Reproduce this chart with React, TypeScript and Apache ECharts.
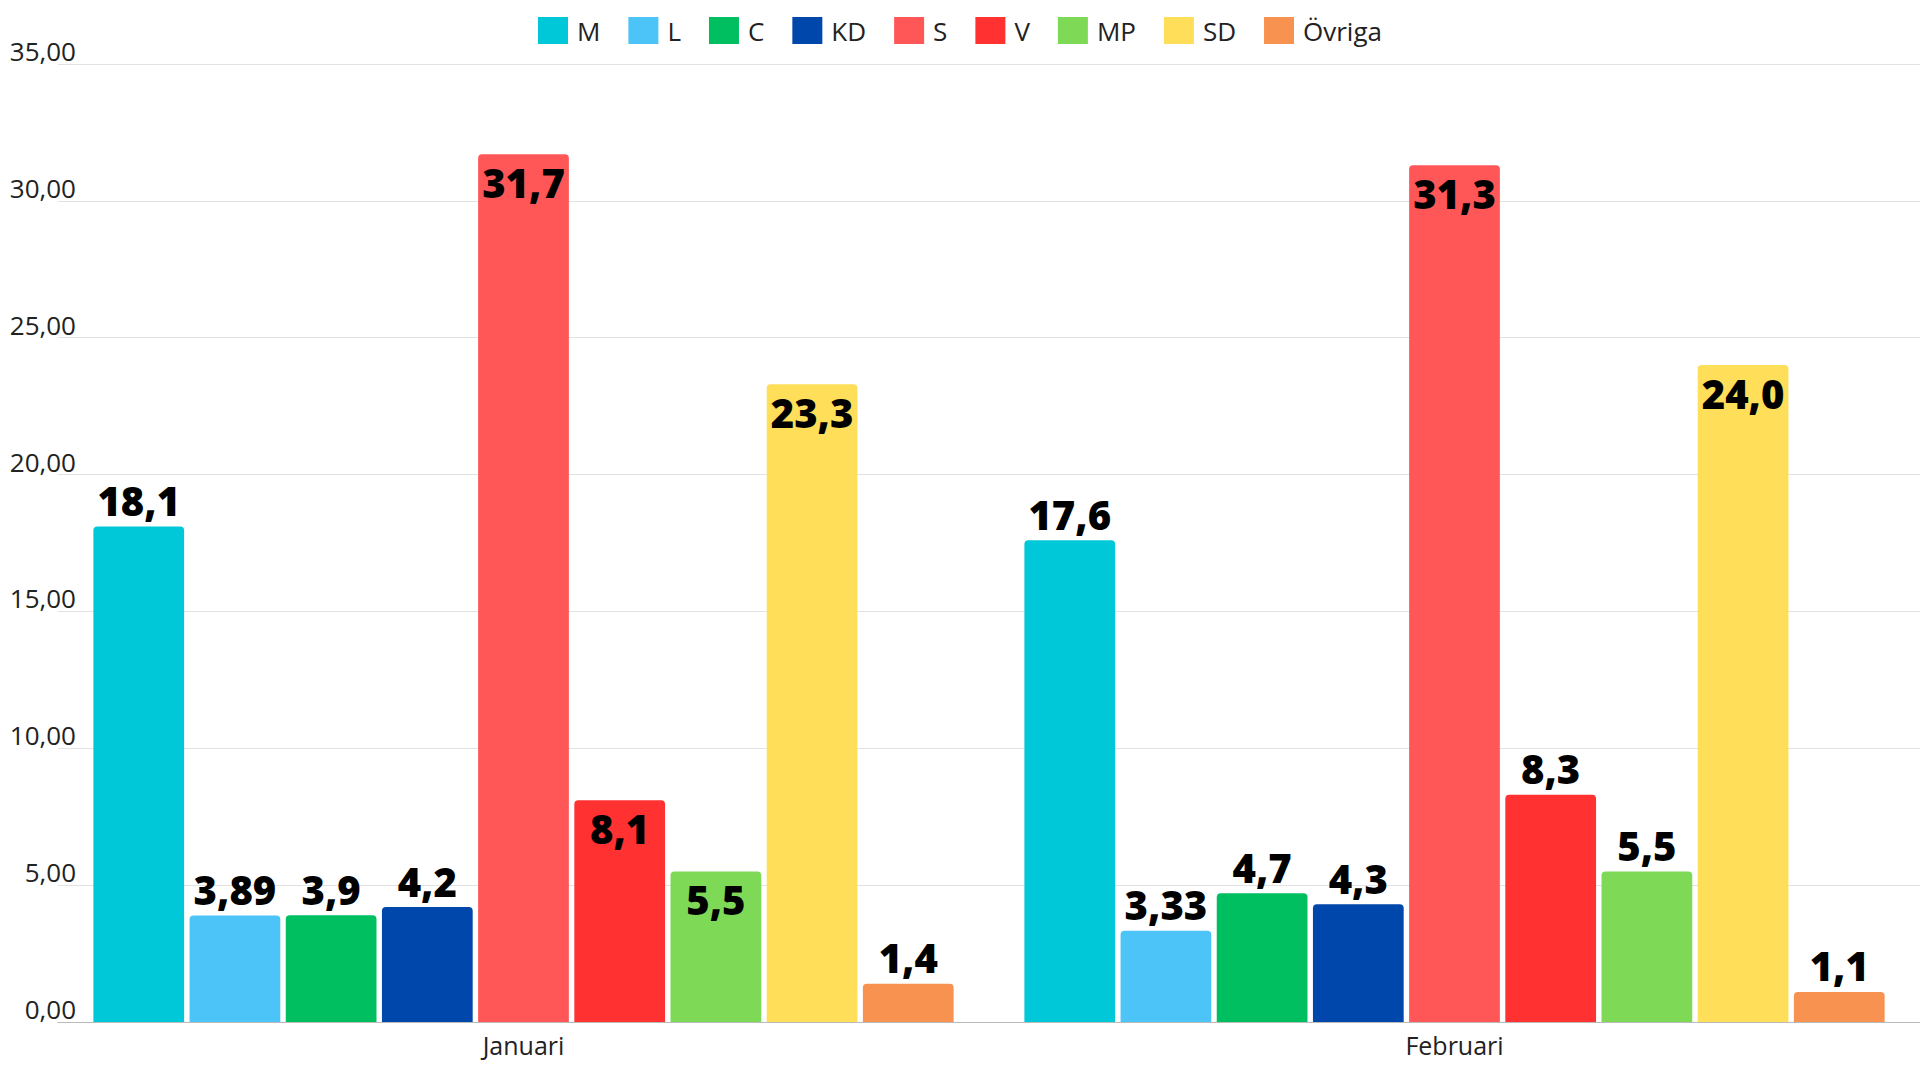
import * as echarts from "echarts";
import { useEffect, useRef } from "react";

const months = ["Januari", "Februari"];
const parties = ["M", "L", "C", "KD", "S", "V", "MP", "SD", "Övriga"];
const colors = ["#00c8d8", "#4cc4f8", "#00bf60", "#0047ab", "#ff5757", "#ff3131", "#7ed957", "#ffde59", "#f79250"];
const values = [
  [18.1, 17.6],
  [3.89, 3.33],
  [3.9, 4.7],
  [4.2, 4.3],
  [31.7, 31.3],
  [8.1, 8.3],
  [5.5, 5.5],
  [23.3, 24.0],
  [1.4, 1.1],
];
// true = label drawn inside the bar top
const inside = [
  [false, false],
  [false, false],
  [false, false],
  [false, false],
  [true, true],
  [true, false],
  [true, false],
  [true, true],
  [false, false],
];
const labelText = [
  ["18,1", "17,6"],
  ["3,89", "3,33"],
  ["3,9", "4,7"],
  ["4,2", "4,3"],
  ["31,7", "31,3"],
  ["8,1", "8,3"],
  ["5,5", "5,5"],
  ["23,3", "24,0"],
  ["1,4", "1,1"],
];

export default function App() {
  const ref = useRef<HTMLDivElement>(null);

  useEffect(() => {
    document.body.style.margin = "0";
    if (!ref.current) return;
    const chart = echarts.init(ref.current, undefined, { renderer: "svg" });
    chart.setOption({
      animation: false,
      backgroundColor: "#ffffff",
      textStyle: { fontFamily: "Open Sans" },
      legend: {
        top: 12,
        left: "center",
        icon: "rect",
        itemWidth: 30,
        itemHeight: 27,
        itemGap: 28,
        textStyle: { fontSize: 26, color: "#222", padding: [0, 0, 0, 4] },
        data: parties,
      },
      grid: { left: 58, right: -35, top: 64, bottom: 58 },
      xAxis: {
        type: "category",
        data: months,
        axisTick: { show: false },
        axisLine: { lineStyle: { color: "#bbb" } },
        axisLabel: { fontSize: 25, color: "#222", margin: 10 },
      },
      yAxis: {
        type: "value",
        min: 0,
        max: 35,
        interval: 5,
        axisLabel: {
          fontSize: 26,
          color: "#222",
          margin: -18,
          verticalAlign: "bottom",
          formatter: (v: number) => v.toFixed(2).replace(".", ","),
        },
        splitLine: { lineStyle: { color: "#e2e2e2" } },
      },
      series: parties.map((p, i) => ({
        name: p,
        type: "bar",
        barGap: "6%",
        barCategoryGap: "7.6%",
        itemStyle: { color: colors[i], borderRadius: [4, 4, 0, 0] },
        data: values[i].map((v, j) => ({
          value: v,
          label: {
            show: true,
            position: inside[i][j] ? "insideTop" : "top",
            distance: inside[i][j] ? 8 : 6,
            formatter: () => labelText[i][j],
            fontSize: 40,
            fontWeight: 800,
            color: "#000",
          },
        })),
      })),
    });
    return () => chart.dispose();
  }, []);

  return <div ref={ref} style={{ width: "100vw", height: "100vh" }} />;
}
